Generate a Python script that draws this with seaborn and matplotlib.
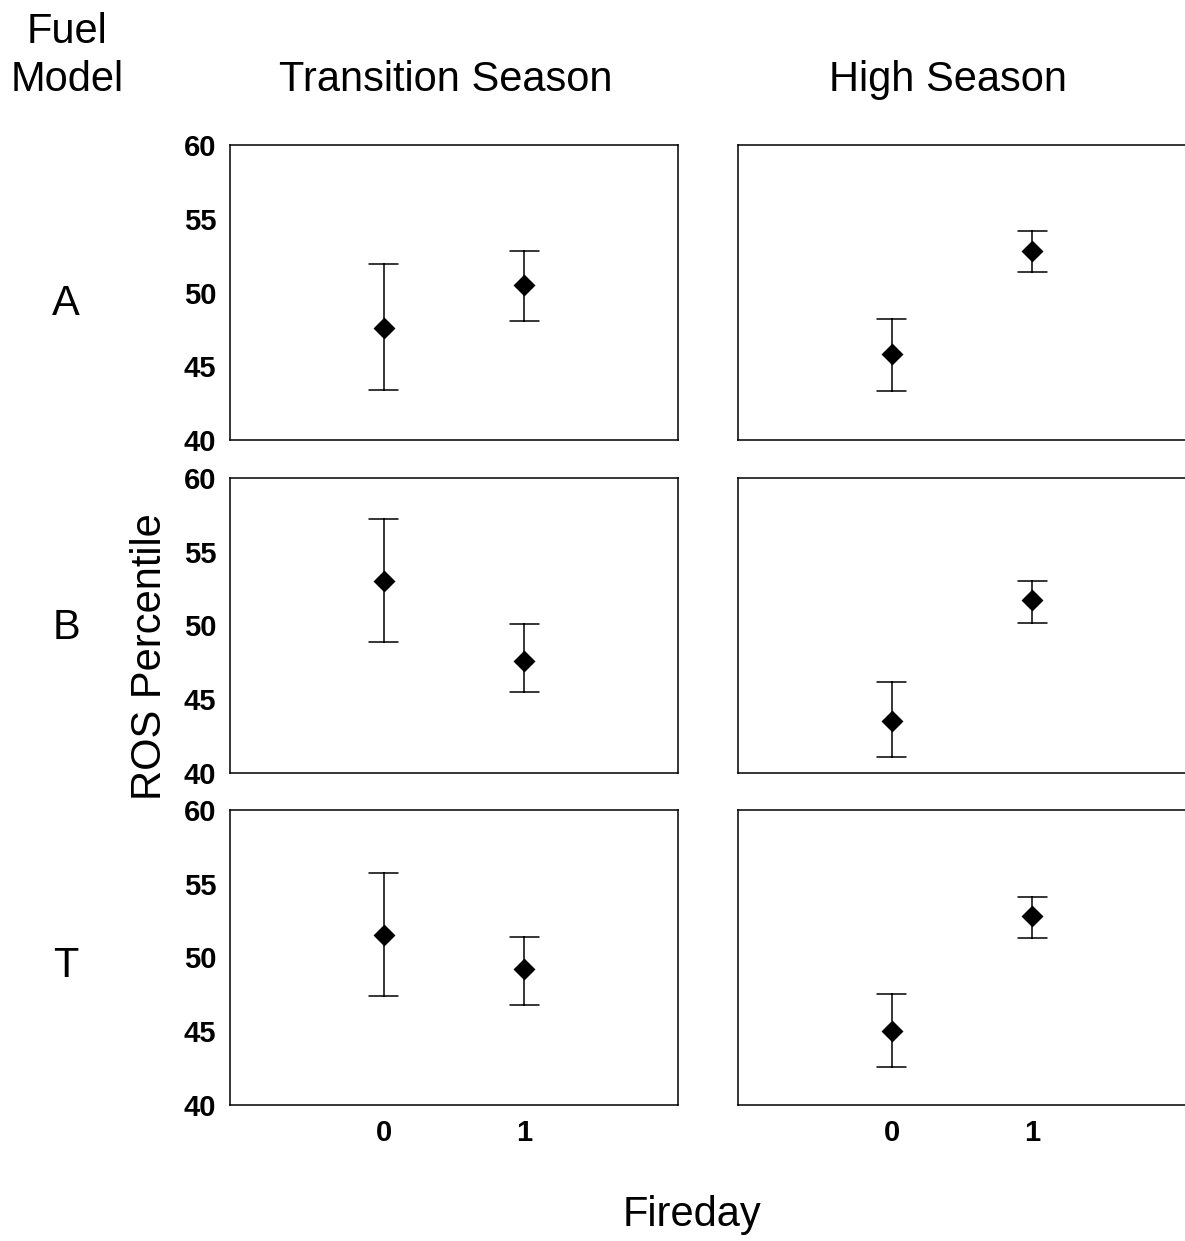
import matplotlib
matplotlib.use("Agg")
import matplotlib.pyplot as plt
import numpy as np
import pandas as pd
import seaborn as sns

fuel_models = ["A", "B", "T"]
seasons = ["Transition Season", "High Season"]
fireday = [0, 1]

# point estimate and lower / upper error bar ends, one row per fuel model,
# one value per fireday (0, 1)
trans_mean = [[47.6, 50.5], [53.0, 47.6], [51.5, 49.2]]
trans_low = [[43.4, 48.1], [48.9, 45.5], [47.4, 46.8]]
trans_high = [[51.9, 52.8], [57.2, 50.1], [55.7, 51.4]]

high_mean = [[45.8, 52.8], [43.5, 51.7], [45.0, 52.8]]
high_low = [[43.3, 51.4], [41.1, 50.2], [42.6, 51.3]]
high_high = [[48.2, 54.2], [46.2, 53.0], [47.5, 54.1]]

y_ticks = [40, 45, 50, 55, 60]

# long table: low / mid / high per group, so median = point and
# 0-100 percentile interval = error bar
rows = []
for s, (mn, lo, hi) in zip(seasons, [(trans_mean, trans_low, trans_high),
                                      (high_mean, high_low, high_high)]):
    for i, fm in enumerate(fuel_models):
        for j, fd in enumerate(fireday):
            for v in (lo[i][j], mn[i][j], hi[i][j]):
                rows.append({"season": s, "fuel": fm, "fireday": fd, "value": v})
df = pd.DataFrame(rows)

sns.set_style("white")
plt.rcParams["font.family"] = ["Liberation Sans", "DejaVu Sans"]
plt.rcParams["text.color"] = "black"
plt.rcParams["xtick.color"] = "black"
plt.rcParams["ytick.color"] = "black"

fig = plt.figure(figsize=(11.85, 12.41), dpi=100)
W, H = 1185, 1241

col_left = [230, 738]
row_top = [145, 478, 810]
ax_w, ax_h = 448, 295

for r, fm in enumerate(fuel_models):
    for c, s in enumerate(seasons):
        ax = fig.add_axes([col_left[c] / W, 1 - (row_top[r] + ax_h) / H, ax_w / W, ax_h / H])
        sub = df[(df["fuel"] == fm) & (df["season"] == s)]
        sns.pointplot(data=sub, x="fireday", y="value", estimator="median",
                      errorbar=("pi", 100), color="black", markers="D",
                      linestyles="none", capsize=0.21, markersize=9,
                      err_kws={"linewidth": 1.1}, ax=ax)
        ax.set_xlim(-1.09, 2.09)
        ax.set_ylim(40, 60)
        ax.set_yticks(y_ticks)
        ax.set_xlabel("")
        ax.set_ylabel("")
        ax.tick_params(length=0, labelsize=21, pad=10, colors="black")
        for lab in ax.get_xticklabels() + ax.get_yticklabels():
            lab.set_fontweight("bold")
        if c == 1:
            ax.set_yticklabels([])
        if r < 2:
            ax.set_xticklabels([])
        for sp in ax.spines.values():
            sp.set_visible(True)
            sp.set_color("black")
            sp.set_linewidth(1.1)

# column titles, row labels and shared axis labels
fig.text(67 / W, 1 - 32 / H, "Fuel", ha="center", va="center", fontsize=30)
fig.text(67 / W, 1 - 80 / H, "Model", ha="center", va="center", fontsize=30)
fig.text(446 / W, 1 - 80 / H, seasons[0], ha="center", va="center", fontsize=30)
fig.text(948 / W, 1 - 80 / H, seasons[1], ha="center", va="center", fontsize=30)
for fm, yc in zip(fuel_models, [304, 628, 966]):
    fig.text(66 / W, 1 - yc / H, fm, ha="center", va="center", fontsize=30)
fig.text(150 / W, 1 - 657 / H, "ROS Percentile", ha="center", va="center",
         rotation=90, fontsize=30)
fig.text(692 / W, 1 - 1215 / H, "Fireday", ha="center", va="center", fontsize=30)

fig.savefig("out.png", dpi=100)
